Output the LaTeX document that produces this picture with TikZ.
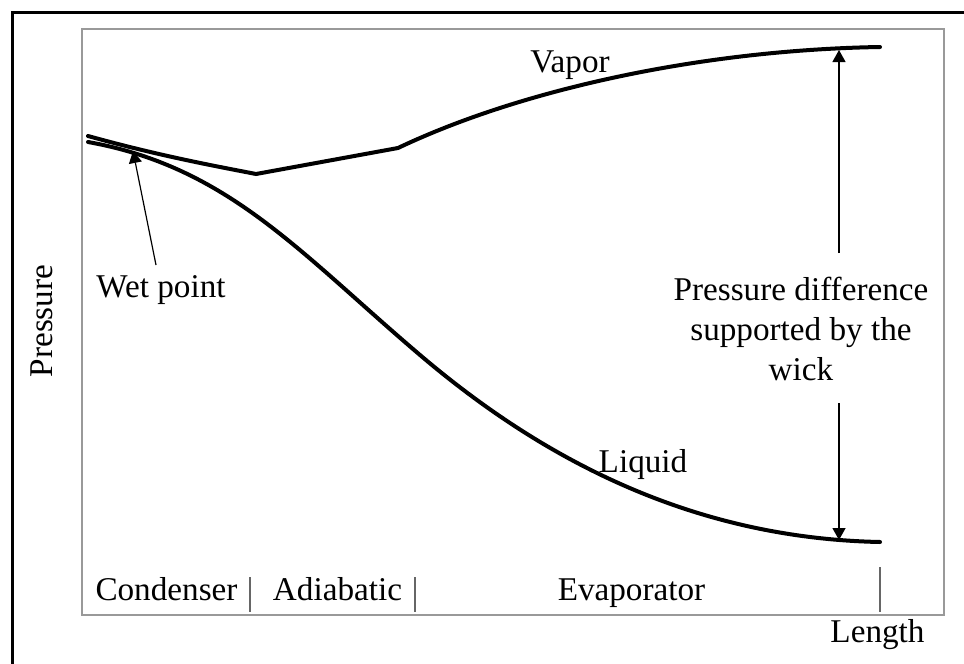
\documentclass[tikz,border=0pt]{standalone}
\usepackage{fontspec}
\setmainfont{Liberation Serif}
\usetikzlibrary{arrows.meta}

\begin{document}
\begin{tikzpicture}[x=0.5pt,y=-0.5pt,
  curve/.style={line width=2pt, line cap=round},
  sep/.style={black!60, line width=0.6pt},
  lbl/.style={font=\fontsize{16.6}{20}\selectfont, inner sep=0pt},
  pointer/.style={line width=0.6pt, -{Triangle[length=6pt,width=6.5pt]}}]
  \useasboundingbox (0,0) rectangle (964,664);

  % frames
  \draw[line width=1.5pt] (12,664) -- (12,12) -- (964,12);
  \draw[black!40, line width=0.7pt] (82,29) rectangle (944,615);

  % vapor and liquid
  \draw[curve] (88,136) .. controls (160,156) and (215,166) .. (256,174)
    -- (398,148) .. controls (520,90) and (700,50) .. (880,47);
  \draw[curve] (88,142) .. controls (228,167) and (300,253) .. (420,355)
    .. controls (530,448.5) and (680,538) .. (880,542);

  % section marks
  \foreach \x/\top in {250/577, 415/577, 880/567}
    \draw[sep] (\x,\top) -- (\x,612);

  \node[lbl, anchor=base] (condlbl) at (166.5,600) {Condenser};
  \node[lbl, anchor=base] (adialbl) at (337.5,600) {Adiabatic};
  \node[lbl, anchor=base] (evaplbl) at (631.5,600) {Evaporator};
  \node[lbl, anchor=base] (lenlbl) at (877.5,642) {Length};
  \node[lbl, anchor=base, rotate=90] (preslbl) at (52,321) {Pressure};

  \node[lbl, anchor=base] (vaplbl) at (570,72) {Vapor};
  \node[lbl, anchor=base] (liqlbl) at (643,472) {Liquid};
  \node[lbl, anchor=base] (wetlbl) at (161,297) {Wet point};
  \node[lbl, align=center, anchor=north] (difflbl) at (801,277)
    {Pressure difference\\supported by the\\wick};

  % pointers
  \coordinate (wet) at (133,151);
  \coordinate (wettail) at (156,265);
  \coordinate (vaptip) at (839,50);
  \coordinate (liqtip) at (839,540);
  \coordinate (gaptop) at (839,253);
  \coordinate (gapbot) at (839,403);
  \draw[pointer] (wettail) -- (wet);
  \draw[pointer] (gaptop) -- (vaptip);
  \draw[pointer] (gapbot) -- (liqtip);
\end{tikzpicture}
\end{document}
